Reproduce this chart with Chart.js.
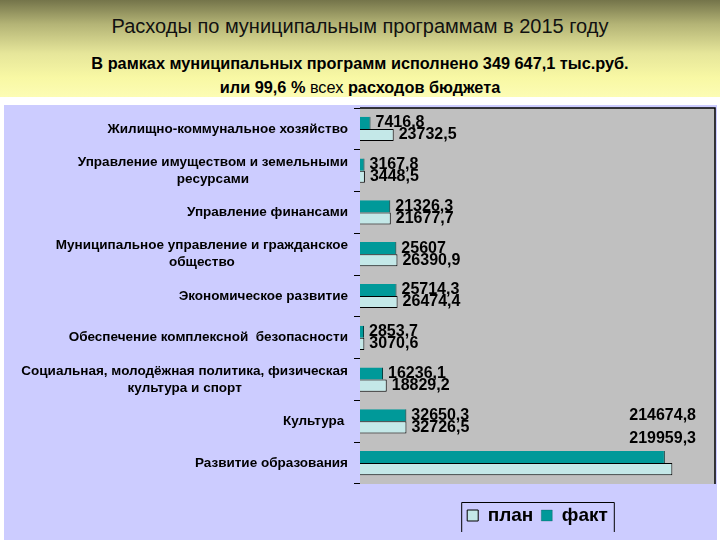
<!DOCTYPE html>
<html>
<head>
<meta charset="utf-8">
<script src="https://cdn.jsdelivr.net/npm/chart.js@4.4.0/dist/chart.umd.min.js"></script>
<style>
  html, body { margin: 0; padding: 0; background: #ffffff; }
  body { width: 720px; height: 540px; position: relative; overflow: hidden; font-family: "Liberation Sans", Arial, sans-serif; }
  #head {
    position: absolute; left: 0; top: 0; width: 720px; height: 97px;
    background: linear-gradient(#74744a 0%, #b4b476 25%, #e6e69a 55%, #f8f8a4 80%, #fcfcb4 100%);
  }
  #title { position: absolute; left: 0; width: 720px; top: 15px; text-align: center; font-size: 20px; color: #111; }
  .sub { position: absolute; left: 0; width: 720px; text-align: center; font-size: 16.3px; font-weight: bold; color: #000; }
  #panel { position: absolute; left: 4px; top: 105px; width: 713px; height: 435px; background: #ccccff; }
  #chart { position: absolute; left: 0; top: 0; }
</style>
</head>
<body>
<div id="head">
  <div id="title">Расходы по муниципальным программам в 2015 году</div>
  <div class="sub" style="top:54px">В рамках муниципальных программ исполнено 349 647,1 тыс.руб.</div>
  <div class="sub" style="top:78px">или 99,6 % <span style="font-weight:normal">всех</span> расходов бюджета</div>
</div>
<div id="panel"></div>
<canvas id="chart" width="720" height="540"></canvas>
<script>
const categories = [
    ['Жилищно-коммунальное хозяйство'],
    ['Управление имуществом и земельными', 'ресурсами'],
    ['Управление финансами'],
    ['Муниципальное управление и гражданское', 'общество'],
    ['Экономическое развитие'],
    ['Обеспечение комплексной  безопасности'],
    ['Социальная, молодёжная политика, физическая', 'культура и спорт'],
    ['Культура '],
    ['Развитие образования']
];
const factValues = [7416.8, 3167.8, 21326.3, 25607, 25714.3, 2853.7, 16236.1, 32650.3, 214674.8];
const planValues = [23732.5, 3448.5, 21677.7, 26390.9, 26474.4, 3070.6, 18829.2, 32726.5, 219959.3];
const seriesNames = ['факт', 'план'];
const xMax = 250000;

function fmt(v) {
    return String(v).replace('.', ',');
}

// gray plot area with black top/right edges
const plotArea = {
    id: 'plotArea',
    beforeDraw(chart) {
        const a = chart.chartArea;
        const ctx = chart.ctx;
        ctx.save();
        ctx.fillStyle = '#c0c0c0';
        ctx.fillRect(a.left, a.top, a.right - a.left, a.bottom - a.top);
        ctx.restore();
    },
    afterDatasetsDraw(chart) {
        const a = chart.chartArea;
        const ctx = chart.ctx;
        ctx.save();
        ctx.strokeStyle = '#000';
        ctx.lineWidth = 1.5;
        ctx.beginPath();
        ctx.moveTo(a.left, a.top);
        ctx.lineTo(a.right, a.top);
        ctx.lineTo(a.right, a.bottom);
        ctx.stroke();
        ctx.restore();
    }
};

// category labels: block right aligned, lines centred inside the block
const categoryLabels = {
    id: 'categoryLabels',
    afterDraw(chart) {
        const y = chart.scales.y;
        const ctx = chart.ctx;
        const right = chart.chartArea.left - 12;
        const lh = 17;
        ctx.save();
        ctx.font = 'bold 13.5px "Liberation Sans", Arial, sans-serif';
        ctx.fillStyle = '#000';
        ctx.textAlign = 'center';
        ctx.textBaseline = 'middle';
        categories.forEach((lines, i) => {
            const w = Math.max(...lines.map(l => ctx.measureText(l).width));
            const cx = right - w / 2;
            const cy = y.getPixelForValue(i);
            const y0 = cy - (lines.length - 1) * lh / 2;
            lines.forEach((l, j) => ctx.fillText(l, cx, y0 + j * lh));
        });
        ctx.restore();
    }
};

// value labels next to the bars
const valueLabels = {
    id: 'valueLabels',
    afterDatasetsDraw(chart) {
        const ctx = chart.ctx;
        const a = chart.chartArea;
        ctx.save();
        ctx.font = 'bold 16px "Liberation Sans", Arial, sans-serif';
        ctx.fillStyle = '#000';
        ctx.textBaseline = 'middle';
        const last = categories.length - 1;
        chart.data.datasets.forEach((ds, di) => {
            const meta = chart.getDatasetMeta(di);
            meta.data.forEach((bar, i) => {
                const txt = fmt(ds.data[i]);
                if (i === last) {
                    ctx.textAlign = 'right';
                    ctx.fillText(txt, a.right - 19, bar.y - (di === 0 ? 41 : 31));
                } else {
                    ctx.textAlign = 'left';
                    ctx.fillText(txt, bar.x + 5, bar.y);
                }
            });
        });
        ctx.restore();
    }
};

// frame round the legend (top, left and right sides)
const legendFrame = {
    id: 'legendFrame',
    afterDraw(chart) {
        const lg = chart.legend;
        if (!lg || !lg.legendHitBoxes.length) return;
        const hb = lg.legendHitBoxes;
        const l = hb[0].left - 6;
        const r = hb[hb.length - 1].left + hb[hb.length - 1].width + 6;
        const t = hb[0].top - 4;
        const ctx = chart.ctx;
        ctx.save();
        ctx.strokeStyle = '#000';
        ctx.lineWidth = 1;
        ctx.beginPath();
        ctx.moveTo(l + 0.5, t + 30);
        ctx.lineTo(l + 0.5, t + 0.5);
        ctx.lineTo(r + 0.5, t + 0.5);
        ctx.lineTo(r + 0.5, t + 30);
        ctx.stroke();
        ctx.restore();
    }
};

new Chart(document.getElementById('chart'), {
    type: 'bar',
    data: {
        labels: categories,
        datasets: [
            {
                label: seriesNames[0],
                data: factValues,
                backgroundColor: '#009999',
                borderColor: '#003333',
                borderWidth: {top: 0, right: 1, bottom: 0, left: 0},
                borderSkipped: false,
                barPercentage: 1,
                categoryPercentage: 0.58
            },
            {
                label: seriesNames[1],
                data: planValues,
                backgroundColor: '#c4e8e8',
                borderColor: '#000000',
                borderWidth: 1,
                borderSkipped: 'start',
                barPercentage: 1,
                categoryPercentage: 0.58
            }
        ]
    },
    options: {
        indexAxis: 'y',
        responsive: false,
        animation: false,
        layout: {
            padding: {top: 108, right: 5, bottom: 5, left: 0}
        },
        scales: {
            x: {
                display: false,
                min: 0,
                max: xMax
            },
            y: {
                afterFit(scale) { scale.width = 360; },
                border: {display: false},
                grid: {
                    display: true,
                    offset: true,
                    drawOnChartArea: false,
                    drawTicks: true,
                    tickLength: 6,
                    color: '#000'
                },
                ticks: {display: false}
            }
        },
        plugins: {
            legend: {
                position: 'bottom',
                fullSize: false,
                reverse: true,
                title: {display: true, text: '', font: {size: 10}, padding: 1},
                labels: {
                    color: '#000',
                    boxWidth: 11,
                    boxHeight: 11,
                    padding: 8,
                    font: {family: '"Liberation Sans", Arial, sans-serif', size: 19, weight: 'bold'}
                }
            },
            tooltip: {enabled: false}
        }
    },
    plugins: [plotArea, categoryLabels, valueLabels, legendFrame]
});
</script>
</body>
</html>
